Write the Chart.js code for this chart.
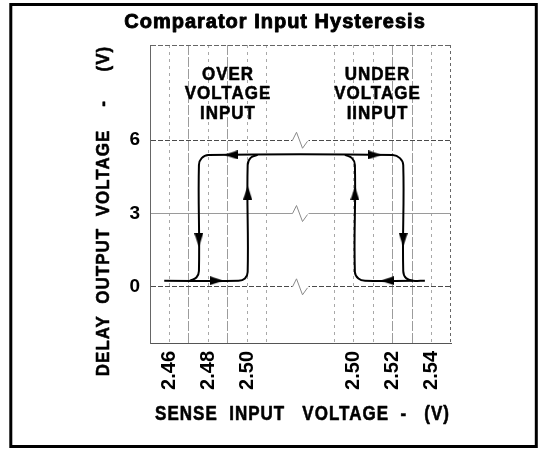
<!DOCTYPE html>
<html><head><meta charset="utf-8">
<script src="https://cdn.jsdelivr.net/npm/chart.js@4/dist/chart.umd.min.js"></script>
<style>html,body{margin:0;padding:0;background:#fff;}canvas{display:block;}</style>
</head><body>
<canvas id="c" width="545" height="452"></canvas>
<script>
// ---------------- texts ----------------
const chartTitle = 'Comparator Input Hysteresis';
const xAxisTitle = 'SENSE  INPUT   VOLTAGE  -   (V)';
const yAxisTitle = 'DELAY  OUTPUT  VOLTAGE    -     (V)';
const overLabelLines  = ['OVER', 'VOLTAGE', 'INPUT'];
const underLabelLines = ['UNDER', 'VOLTAGE', 'IINPUT'];

// ---------------- ticks (broken x axis: left and right panel) ----------------
const leftTickVolts   = [2.45, 2.46, 2.47, 2.48, 2.49, 2.50, 2.51];
const rightTickVolts  = [2.49, 2.50, 2.51, 2.52, 2.53, 2.54, 2.55];
const leftTickLabels  = ['', '2.46', '', '2.48', '', '2.50', ''];
const rightTickLabels = ['', '2.50', '', '2.52', '', '2.54', ''];
const yTickValues = [0, 3, 6];
const yTickLabels = ['0', '3', '6'];

// ---------------- traces: sense input voltage (V) -> output (V) ----------------
// over-voltage comparator, output rising at 2.50 V (left panel)
const overRiseVolts = [2.4573, 2.4954, 2.4987, 2.5001, 2.5001, 2.5016, 2.5052];
const overRiseOut   = [0.25,   0.25,   0.34,   0.61,   4.99,   5.28,   5.40];
// outer trace: over-voltage falling edge (left panel) ...
const outerLeftVolts = [2.4705, 2.4738, 2.4751, 2.4751, 2.4765, 2.4799];
const outerLeftOut   = [0.25,   0.38,   0.65,   4.99,   5.27,   5.40];
// ... along the top to the under-voltage falling edge (right panel)
const outerRightVolts = [2.5202, 2.5238, 2.5255, 2.5255, 2.5269, 2.5305, 2.5366];
const outerRightOut   = [5.40,   5.27,   4.99,   0.65,   0.36,   0.25,   0.25];
// under-voltage comparator, output rising at 2.50 V (right panel)
const underRiseVolts = [2.5305, 2.5059, 2.5025, 2.5007, 2.5007, 2.4992, 2.4956];
const underRiseOut   = [0.25,   0.25,   0.34,   0.61,   4.99,   5.27,   5.40];
// arrowheads: panel, voltage, output, direction (degrees clockwise from up)
const arrowPanels = ['L', 'L', 'L', 'L', 'R', 'R', 'R', 'R'];
const arrowVolts  = [2.4842, 2.5001, 2.4915, 2.4751, 2.5173, 2.5007, 2.5110, 2.5255];
const arrowOut    = [0.25,   3.86,   5.40,   1.91,   0.25,   3.83,   5.40,   1.92];
const arrowDirs   = [90,     0,      270,    180,    270,    0,      90,     180];

// ---------------- broken-axis mapping (axis units: 1 unit = 0.01 V) ----------------
const LEFT_ORIGIN = 2.45, RIGHT_ORIGIN = 2.50, RIGHT_OFFSET = 10.44;
const X_MAX = 15.44, BREAK_POS = 7.72, Y_MIN = -2.3, Y_MAX = 9.9;
function toPos(panel, v) {
  return panel === 'L' ? (v - LEFT_ORIGIN) * 100 : (v - RIGHT_ORIGIN) * 100 + RIGHT_OFFSET;
}
function pts(panel, volts, outs) {
  return volts.map((v, i) => ({ x: toPos(panel, v), y: outs[i] }));
}

const xTickPos = leftTickVolts.map(v => toPos('L', v)).concat(rightTickVolts.map(v => toPos('R', v)));
const xTickText = leftTickLabels.concat(rightTickLabels);
const yTickPos = [Y_MIN].concat(yTickValues, [Y_MAX]);
const yTickText = [''].concat(yTickLabels, ['']);

// arrowhead sprite (points up)
function makeArrow() {
  const c = document.createElement('canvas');
  c.width = 9; c.height = 14;
  const g = c.getContext('2d');
  g.fillStyle = '#000';
  g.beginPath(); g.moveTo(4.5, 0); g.lineTo(9, 14); g.lineTo(0, 14); g.closePath(); g.fill();
  return c;
}
const arrowSprite = makeArrow();

const FONT = '"Liberation Sans", Arial, Helvetica, sans-serif';
function drawText(ctx, text, x, y, o) {
  ctx.save();
  ctx.translate(x, y);
  if (o.rotate) ctx.rotate(o.rotate);
  ctx.scale(o.sx || 1, o.sy || 1);
  ctx.font = 'bold ' + o.size + 'px ' + FONT;
  ctx.letterSpacing = o.spacing || '1px';
  ctx.textAlign = 'center';
  ctx.textBaseline = o.baseline || 'alphabetic';
  ctx.fillStyle = '#000';
  ctx.fillText(text, 0, 0);
  if (o.heavy) {
    ctx.strokeStyle = '#000';
    ctx.lineWidth = o.heavy;
    ctx.lineJoin = 'round';
    ctx.strokeText(text, 0, 0);
  }
  ctx.restore();
}

const decor = {
  id: 'decor',
  beforeDatasetsDraw(chart) {
    const { ctx, scales: { x, y } } = chart;
    const bx = x.getPixelForValue(BREAK_POS);
    ctx.save();
    yTickValues.forEach(v => {
      const py = y.getPixelForValue(v);
      ctx.fillStyle = '#fff';
      ctx.fillRect(bx - 8, py - 2, 16, 4);
      ctx.strokeStyle = '#8a8a8a';
      ctx.lineWidth = 1;
      ctx.beginPath();
      ctx.moveTo(bx - 8, py);
      ctx.lineTo(bx - 4, py - 8);
      ctx.lineTo(bx + 2, py + 8);
      ctx.lineTo(bx + 7, py + 1);
      ctx.stroke();
    });
    ctx.restore();
  },
  afterDraw(chart) {
    const ctx = chart.ctx;
    drawText(ctx, chartTitle, 275, 28, { size: 20, heavy: 0.9 });
    drawText(ctx, yAxisTitle, 103.5, 211, { size: 17, rotate: -Math.PI / 2, sy: 1.1, baseline: 'middle', heavy: 0.5 });
    drawText(ctx, xAxisTitle, 302.5, 414, { size: 17, sy: 1.2, baseline: 'middle', heavy: 0.5 });
    const base = [80, 99.3, 118.5];
    overLabelLines.forEach((t, i) => drawText(ctx, t, 228, base[i], { size: 17, sy: 1.1, heavy: 0.5 }));
    underLabelLines.forEach((t, i) => drawText(ctx, t, 377.5, base[i], { size: 17, sy: 1.1, heavy: 0.5 }));
    ctx.save();
    ctx.strokeStyle = '#000';
    ctx.lineWidth = 3;
    ctx.strokeRect(10.8, 4.5, 525.5, 442);
    ctx.restore();
  }
};

const lineStyle = { borderColor: '#000', borderWidth: 2, pointRadius: 0, tension: 0.4, fill: false };

new Chart(document.getElementById('c'), {
  type: 'line',
  data: {
    datasets: [
      Object.assign({ label: 'Over-voltage rising', data: pts('L', overRiseVolts, overRiseOut) }, lineStyle),
      Object.assign({ label: 'Outer trace', data: pts('L', outerLeftVolts, outerLeftOut).concat(pts('R', outerRightVolts, outerRightOut)) }, lineStyle),
      Object.assign({ label: 'Under-voltage rising', data: pts('R', underRiseVolts, underRiseOut) }, lineStyle),
      {
        label: 'Arrows',
        data: arrowVolts.map((v, i) => ({ x: toPos(arrowPanels[i], v), y: arrowOut[i] })),
        showLine: false,
        pointStyle: arrowSprite,
        pointRotation: arrowDirs,
        pointRadius: 6,
        pointBackgroundColor: '#000',
        pointBorderColor: '#000'
      }
    ]
  },
  options: {
    responsive: false,
    animation: false,
    events: [],
    layout: { padding: { left: 0, right: 94, top: 45, bottom: 0 } },
    plugins: { legend: { display: false }, tooltip: { enabled: false }, title: { display: false } },
    scales: {
      x: {
        type: 'linear', min: 0, max: X_MAX,
        afterFit(s) { s.height = 109; },
        afterBuildTicks(s) { s.ticks = xTickPos.map(v => ({ value: v })); },
        ticks: {
          autoSkip: false, minRotation: 90, maxRotation: 90, padding: 8,
          color: '#000', font: { family: FONT, size: 20, weight: 'bold' },
          callback: (v, i) => xTickText[i]
        },
        grid: {
          drawTicks: false, lineWidth: 1,
          color: c => (c.index === 0 || c.index === 13 ? '#666' : ([2, 4, 10, 11].includes(c.index) ? '#9c9c9c' : '#a8a8a8'))
        },
        border: {
          display: true, color: '#555',
          dash: c => {
            if (!c.tick) return [5, 2, 1, 2];
            if (c.index === 0) return [4, 2];
            if (c.index === 13) return [3, 3];
            if ([2, 4, 10, 11].includes(c.index)) return [10, 2];
            return [3, 4];
          }
        },
        title: { display: false }
      },
      y: {
        type: 'linear', min: Y_MIN, max: Y_MAX,
        afterFit(s) { s.width = 150; },
        afterBuildTicks(s) { s.ticks = yTickPos.map(v => ({ value: v })); },
        ticks: {
          autoSkip: false, padding: 10,
          color: '#000', font: { family: FONT, size: 19, weight: 'bold' },
          callback: (v, i) => yTickText[i]
        },
        grid: {
          drawTicks: false, lineWidth: 1,
          color: c => (c.tick && c.tick.value === 3 ? '#9a9a9a' : (c.tick && (c.tick.value === 0 || c.tick.value === 6) ? '#4a4a4a' : '#666'))
        },
        border: {
          display: true, color: '#666',
          dash: c => {
            if (!c.tick) return [4, 2];
            if (c.tick.value === 3) return [];
            return [5, 2];
          }
        },
        title: { display: false }
      }
    }
  },
  plugins: [decor]
});
</script>
</body></html>
